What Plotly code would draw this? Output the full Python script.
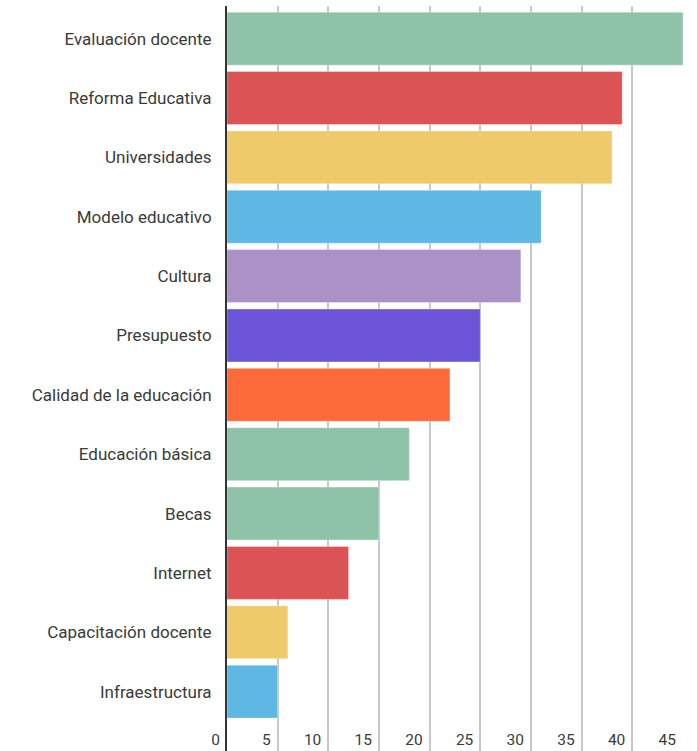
import plotly.graph_objects as go

categories = ["Evaluación docente", "Reforma Educativa", "Universidades", "Modelo educativo",
              "Cultura", "Presupuesto", "Calidad de la educación", "Educación básica",
              "Becas", "Internet", "Capacitación docente", "Infraestructura"]
values = [45, 39, 38, 31, 29, 25, 22, 18, 15, 12, 6, 5]
colors = ["#8fc3a7", "#dc5356", "#efca6b", "#5fb7e4", "#ab91c5", "#6c55d9",
          "#fd6a39", "#8fc3a7", "#8fc3a7", "#dc5356", "#efca6b", "#5fb7e4"]
tick_vals = [0, 5, 10, 15, 20, 25, 30, 35, 40, 45]

fig = go.Figure(go.Bar(
    x=values, y=categories, orientation="h",
    marker=dict(color=colors, line=dict(color="rgba(255,255,255,0.35)", width=1)),
    hoverinfo="x+y",
))

yfnt = dict(family="Roboto", size=17, color="#3a3a3a")
xfnt = dict(family="Roboto", size=15.5, color="#3a3a3a")
fig.update_layout(
    width=697, height=751,
    margin=dict(l=227, r=14, t=6, b=0),
    paper_bgcolor="white", plot_bgcolor="white",
    bargap=0.108,
    showlegend=False,
    font=yfnt,
)
fig.update_xaxes(
    range=[0, 45], tickvals=tick_vals, ticktext=[str(v) for v in tick_vals],
    showgrid=True, gridcolor="#c8c8c8", gridwidth=1.5,
    zeroline=False, showline=False,
    ticklabelposition="inside left", ticklabeloverflow="allow",
    ticklabelshift=-7, ticklabelstandoff=-3,
    tickfont=xfnt,
)
fig.update_yaxes(
    type="category", categoryorder="array", categoryarray=categories,
    range=[12.0, -0.55],
    showgrid=False, zeroline=False,
    showline=True, linecolor="#333", linewidth=2,
    ticks="outside", ticklen=10, tickcolor="rgba(0,0,0,0)",
    tickfont=yfnt,
)

fig.write_html("out.html", config={"displayModeBar": False},
               post_script="document.body.style.margin='0';")
